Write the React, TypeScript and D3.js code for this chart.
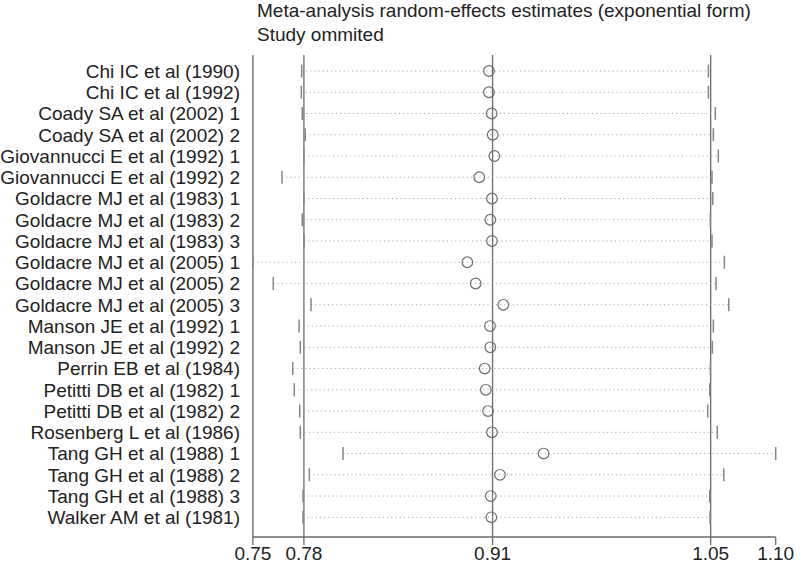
import React from "react";
import * as d3 from "d3";

const studies = [
  "Chi IC et al (1990)",
  "Chi IC et al (1992)",
  "Coady SA et al (2002) 1",
  "Coady SA et al (2002) 2",
  "Giovannucci E et al (1992) 1",
  "Giovannucci E et al (1992) 2",
  "Goldacre MJ et al (1983) 1",
  "Goldacre MJ et al (1983) 2",
  "Goldacre MJ et al (1983) 3",
  "Goldacre MJ et al (2005) 1",
  "Goldacre MJ et al (2005) 2",
  "Goldacre MJ et al (2005) 3",
  "Manson JE et al (1992) 1",
  "Manson JE et al (1992) 2",
  "Perrin EB et al (1984)",
  "Petitti DB et al (1982) 1",
  "Petitti DB et al (1982) 2",
  "Rosenberg L et al (1986)",
  "Tang GH et al (1988) 1",
  "Tang GH et al (1988) 2",
  "Tang GH et al (1988) 3",
  "Walker AM et al (1981)",
];

const lowerCI = [
  0.783, 0.7828, 0.7834, 0.7854, 0.7844, 0.77, 0.7844, 0.7834, 0.7846, 0.7507,
  0.7642, 0.7892, 0.7813, 0.7821, 0.7771, 0.7781, 0.7817, 0.7821, 0.8104,
  0.7881, 0.7839, 0.7839,
];

const estimate = [
  0.9071, 0.9071, 0.9089, 0.9096, 0.9107, 0.9007, 0.9091, 0.908, 0.9091,
  0.8928, 0.8983, 0.9166, 0.9078, 0.908, 0.9043, 0.905, 0.9065, 0.9091, 0.9433,
  0.9144, 0.9083, 0.9087,
];

const upperCI = [
  1.0525, 1.0525, 1.0571, 1.0558, 1.0591, 1.0549, 1.0554, 1.0538, 1.0549,
  1.0631, 1.0576, 1.066, 1.0558, 1.0551, 1.0538, 1.0534, 1.0521, 1.0584,
  1.0971, 1.0627, 1.0534, 1.0536,
];

const tickValues = [0.7507, 0.7845, 0.9095, 1.054, 1.0971];
const tickLabels = ["0.75", "0.78", "0.91", "1.05", "1.10"];
const refLines = [0.7507, 0.7845, 0.9095, 1.054];

const titleLines = [
  "Meta-analysis random-effects estimates (exponential form)",
  "Study ommited",
];

const W = 800;
const H = 565;
const FONT = "'Liberation Sans', Arial, Helvetica, sans-serif";

export default function App() {
  const x = d3.scaleLinear().domain([0.7507, 1.0971]).range([252.9, 775.7]);
  const y = d3.scalePoint<string>().domain(studies).range([71, 517.3]);
  const plotTop = 55;
  const axisY = 537;
  const capHalf = 6.5;

  return (
    <svg
      width={W}
      height={H}
      style={{ position: "absolute", left: 0, top: 0, background: "#fff" }}
      fontFamily={FONT}
    >
      <rect x={0} y={0} width={W} height={H} fill="#fff" />
      {titleLines.map((t, i) => (
        <text key={t} x={257} y={17 + i * 23.5} fontSize={19} fill="#222">
          {t}
        </text>
      ))}
      {refLines.map((v) => (
        <line
          key={v}
          x1={x(v)}
          x2={x(v)}
          y1={plotTop}
          y2={axisY}
          stroke="#6a6a6a"
          strokeWidth={1.3}
        />
      ))}
      {studies.map((s, i) => {
        const yy = y(s) as number;
        return (
          <g key={s}>
            <text
              x={240}
              y={yy}
              dy="0.36em"
              textAnchor="end"
              fontSize={19}
              fill="#222"
            >
              {s}
            </text>
            <line
              x1={x(lowerCI[i])}
              x2={x(upperCI[i])}
              y1={yy}
              y2={yy}
              stroke="#a8a8a8"
              strokeWidth={1}
              strokeDasharray="1.2 3"
            />
            <line
              x1={x(lowerCI[i])}
              x2={x(lowerCI[i])}
              y1={yy - capHalf}
              y2={yy + capHalf}
              stroke="#858585"
              strokeWidth={1.5}
            />
            <line
              x1={x(upperCI[i])}
              x2={x(upperCI[i])}
              y1={yy - capHalf}
              y2={yy + capHalf}
              stroke="#858585"
              strokeWidth={1.5}
            />
            <circle
              cx={x(estimate[i])}
              cy={yy}
              r={5.3}
              fill="none"
              stroke="#707070"
              strokeWidth={1.2}
            />
          </g>
        );
      })}
      <line
        x1={x(tickValues[0])}
        x2={x(tickValues[tickValues.length - 1])}
        y1={axisY}
        y2={axisY}
        stroke="#6a6a6a"
        strokeWidth={1.3}
      />
      {tickValues.map((v, i) => (
        <g key={v}>
          <line
            x1={x(v)}
            x2={x(v)}
            y1={axisY}
            y2={axisY + 8}
            stroke="#6a6a6a"
            strokeWidth={1.3}
          />
          <text
            x={x(v)}
            y={560}
            textAnchor="middle"
            fontSize={19}
            fill="#222"
          >
            {tickLabels[i]}
          </text>
        </g>
      ))}
    </svg>
  );
}
